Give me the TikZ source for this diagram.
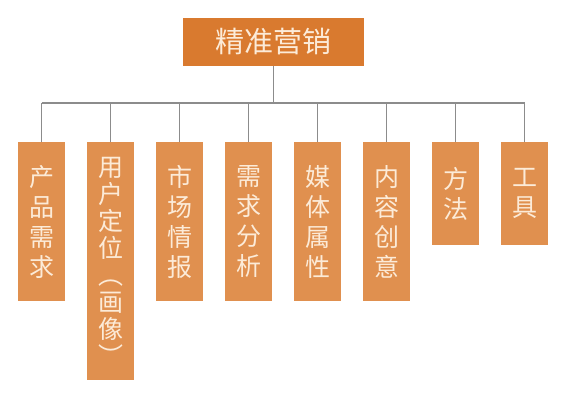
\documentclass[tikz,border=0pt]{standalone}
\usepackage{fontspec}
\newfontfamily\cjk{Noto Sans CJK SC}
\definecolor{topc}{HTML}{D97A2F}
\definecolor{kidc}{HTML}{E0904F}
\definecolor{txtc}{HTML}{FCEBD8}
\definecolor{linec}{HTML}{8C8C8C}
\begin{document}
\begin{tikzpicture}[x=1pt, y=-1pt,
  topbox/.style={fill=topc, text=txtc, minimum width=181pt, minimum height=48pt, inner sep=0pt, font=\cjk\fontsize{29}{34}\selectfont},
  kidbox/.style={fill=kidc, text=txtc, minimum width=47pt, inner sep=0pt, anchor=north, align=center},
  link/.style={draw=linec, line width=1.2pt}]
\useasboundingbox (0,0) rectangle (567,401);
\node[topbox] (top) at (273.5,42) {精准营销};
\coordinate (bar) at (273.5,103);
\draw[link] (top) -- (bar);
\foreach \i/\t/\h/\s in {1/{产\\品\\需\\求}/159/30, 2/{用\\户\\定\\位\\︵\\画\\像\\︶}/238/27,
  3/{市\\场\\情\\报}/159/30, 4/{需\\求\\分\\析}/159/30, 5/{媒\\体\\属\\性}/159/30,
  6/{内\\容\\创\\意}/159/30, 7/{方\\法}/103/30, 8/{工\\具}/103/30}
{
    \node[kidbox, minimum height=\h pt, font=\cjk\fontsize{25}{\s}\selectfont] (k\i) at ({41.5+69*(\i-1)},142) {\t};
    \draw[link] (k\i.north) -- (k\i.north |- bar);
}
\draw[link] (k1.north |- bar) -- (k8.north |- bar);
\end{tikzpicture}
\end{document}
